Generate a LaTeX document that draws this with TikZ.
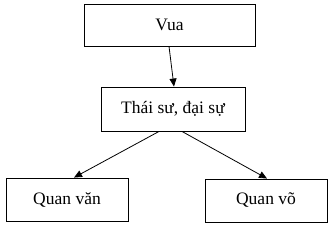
\documentclass[tikz,border=0pt]{standalone}
\usepackage{fontspec}
\setmainfont{Liberation Serif}
\usetikzlibrary{arrows.meta, positioning}
\tikzset{
    rankbox/.style={rectangle, draw=black, line width=0.9pt, fill=white, align=center, inner sep=0pt, font=\fontsize{17.5}{20}\selectfont},
    arrow/.style={line width=0.8pt, -{Triangle[length=8pt, width=7pt]}}
}
\begin{document}
\begin{tikzpicture}[x=1pt, y=-1pt]
    \useasboundingbox (0,0) rectangle (332,228);
    % Boxes
    \node[rankbox, minimum width=171pt, minimum height=42pt] (vua) at (169.5, 25) {Vua};
    \node[rankbox, minimum width=144pt, minimum height=44pt] (thaisu) at (173, 109) {Thái sư, đại sự};
    \node[rankbox, minimum width=122pt, minimum height=43pt] (quanvan) at (67, 199.5) {Quan văn};
    \node[rankbox, minimum width=122pt, minimum height=43pt] (quanvo) at (266, 200.5) {Quan võ};

    % Arrows
    \draw[arrow] ([xshift=-0.5pt]vua.south) -- ([xshift=1pt]thaisu.north);
    \draw[arrow] ([xshift=-14pt]thaisu.south) -- ([xshift=7pt]quanvan.north);
    \draw[arrow] ([xshift=9pt]thaisu.south) -- ([xshift=1pt]quanvo.north);
\end{tikzpicture}
\end{document}
